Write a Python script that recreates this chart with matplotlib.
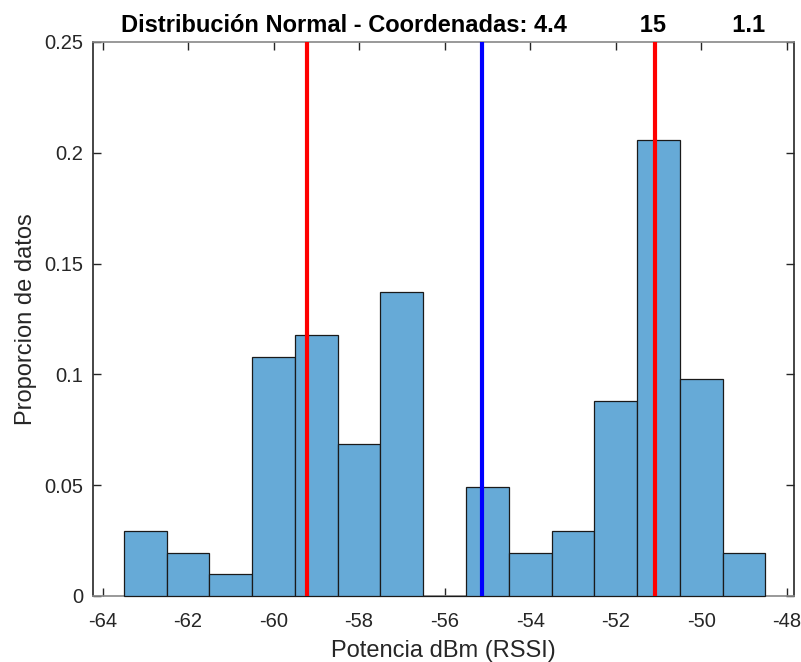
import matplotlib
matplotlib.use("Agg")
import matplotlib.pyplot as plt
import numpy as np

plt.rcParams['font.family'] = ['Liberation Sans', 'DejaVu Sans']

# Data
bin_edges = [-63.5, -62.5, -61.5, -60.5, -59.5, -58.5, -57.5, -56.5, -55.5,
             -54.5, -53.5, -52.5, -51.5, -50.5, -49.5, -48.5]
proportions = [0.0294, 0.0196, 0.0098, 0.1078, 0.1176, 0.0686, 0.1373, 0.0,
               0.0490, 0.0196, 0.0294, 0.0882, 0.2059, 0.0980, 0.0196]
red_lines = [-59.21, -51.07]
blue_line = -55.13
title_values = ["4.4", "15", "1.1"]
xticks = [-64, -62, -60, -58, -56, -54, -52, -50, -48]
yticks = [0, 0.05, 0.1, 0.15, 0.2, 0.25]
ytick_labels = ['0', '0.05', '0.1', '0.15', '0.2', '0.25']

fig = plt.figure(figsize=(8.01, 6.62), dpi=100)
ax = fig.add_axes([0.1157, 0.0997, 0.9913 - 0.1157, 0.9366 - 0.0997])

edges = np.array(bin_edges)
widths = np.diff(edges)
bars = ax.bar(edges[:-1], proportions, width=widths, align='edge',
              color='#66AAD7', edgecolor='#1a1a1a', linewidth=0.9, zorder=2.6)
for b in bars:
    b.set_clip_on(False)

for x in red_lines:
    ax.axvline(x, color='#ff0000', linewidth=3, zorder=3)
ax.axvline(blue_line, color='#0000ff', linewidth=3, zorder=3)

ax.set_xlim(-64.23, -47.83)
ax.set_ylim(0, 0.25)
ax.set_xticks(xticks)
ax.set_xticklabels([str(t) for t in xticks])
ax.set_yticks(yticks)
ax.set_yticklabels(ytick_labels)

ax.tick_params(direction='in', top=True, right=True, length=6, width=1,
               colors='#262626', labelsize=14.5)
ax.tick_params(axis='x', pad=11.5)
ax.tick_params(axis='y', pad=7)
for s in ['left', 'right']:
    ax.spines[s].set_color('#262626')
    ax.spines[s].set_linewidth(1.2)
for s in ['top', 'bottom']:
    ax.spines[s].set_color('#888888')
    ax.spines[s].set_linewidth(1.2)

ax.set_xlabel('Potencia dBm (RSSI)', fontsize=17, color='#262626')
ax.set_ylabel('Proporcion de datos', fontsize=17, color='#262626')
ax.xaxis.set_label_coords(0.5, -0.079)
ax.yaxis.set_label_coords(-0.080, 0.5)

title = ('Distribución Normal - Coordenadas: ' + title_values[0] +
         ' ' * 11 + title_values[1] + ' ' * 10 + title_values[2])
ax.set_title(title, fontsize=17, fontweight='bold', color='black', pad=7)

fig.savefig('out.png', dpi=100)
